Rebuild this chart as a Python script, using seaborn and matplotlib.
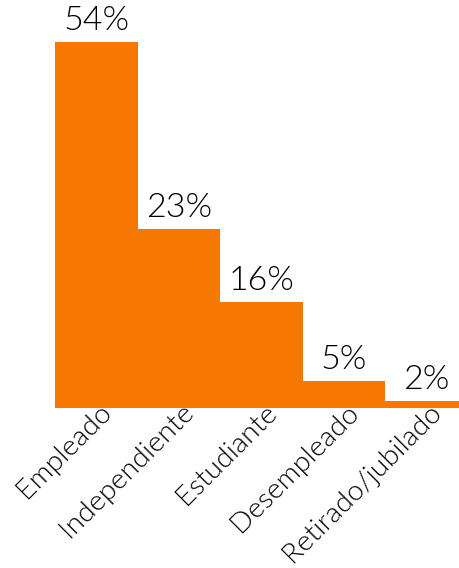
import matplotlib
matplotlib.use("Agg")
import matplotlib.pyplot as plt
import matplotlib.transforms as mtransforms
import pandas as pd
import seaborn as sns

# data
categories = ["Empleado", "Independiente", "Estudiante", "Desempleado", "Retirado/jubilado"]
share_labels = ["54%", "23%", "16%", "5%", "2%"]
# bar heights as drawn (the 23% bar is drawn taller than its label)
bar_heights = [54, 26.4, 15.6, 4.0, 1.0]

ORANGE = "#F77800"
TEXT = "#000000"

sns.set_theme(style="white")
plt.rcParams["font.family"] = ["Lato", "DejaVu Sans"]

df = pd.DataFrame({"category": categories, "height": bar_heights})

fig = plt.figure(figsize=(4.6, 5.68), dpi=100)
ax = fig.add_axes([55 / 460, 160.3 / 568, 413 / 460, 407.7 / 568])

sns.barplot(data=df, x="category", y="height", color=ORANGE, width=1.0,
            saturation=1, linewidth=0, ax=ax)

for i, (h, lab) in enumerate(zip(bar_heights, share_labels)):
    ax.annotate(lab, (i, h), xytext=(0, 4), textcoords="offset points",
                ha="center", va="bottom", fontsize=24.5, color=TEXT,
                fontweight=300)

ax.set_xlim(-0.5, 4.5)
ax.set_ylim(0, 54 * 407.7 / 366)
ax.set_xlabel("")
ax.set_ylabel("")
ax.set_yticks([])
ax.tick_params(axis="x", length=0, pad=1)
shift = mtransforms.ScaledTranslation(11 / 100, 1 / 100, fig.dpi_scale_trans)
for tl in ax.get_xticklabels():
    tl.set_rotation(45)
    tl.set_ha("right")
    tl.set_va("center")
    tl.set_rotation_mode("anchor")
    tl.set_fontsize(20.5)
    tl.set_fontweight(300)
    tl.set_color(TEXT)
    tl.set_transform(tl.get_transform() + shift)
sns.despine(ax=ax, left=True, bottom=True)

fig.savefig("out.png", dpi=100)
